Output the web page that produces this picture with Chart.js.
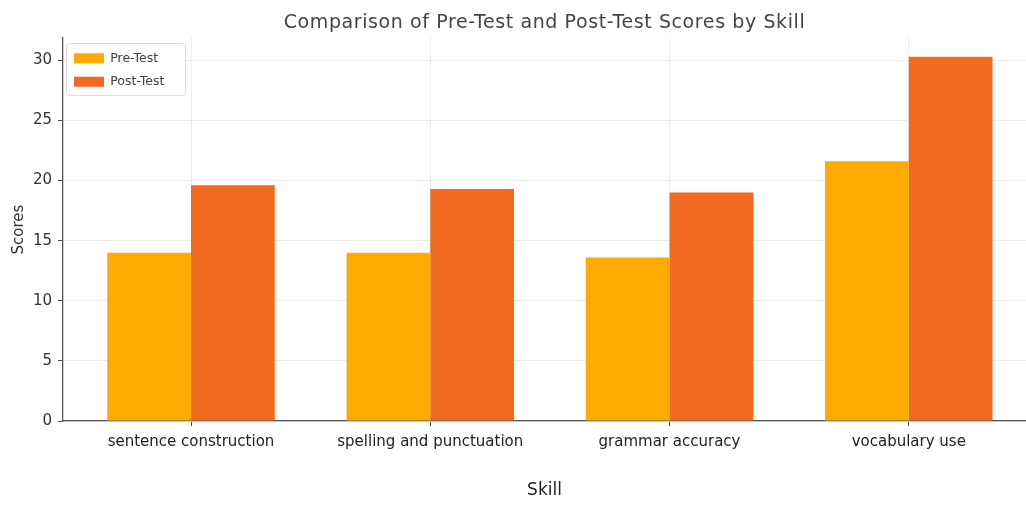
<!DOCTYPE html>
<html>
<head>
<meta charset="utf-8">
<script src="https://cdn.jsdelivr.net/npm/chart.js@4.4.1/dist/chart.umd.min.js"></script>
<style>
  html,body{margin:0;padding:0;background:#fff;overflow:hidden}
  #wrap{width:1026px;height:505px;position:relative}
</style>
</head>
<body>
<div id="wrap"><canvas id="c" width="1026" height="505"></canvas></div>
<script>
// ===== Data =====
const skills = ['sentence construction', 'spelling and punctuation', 'grammar accuracy', 'vocabulary use'];
const preTest = [14.0, 14.0, 13.6, 21.6];
const postTest = [19.6, 19.3, 19.0, 30.3];
const yTicks = [0, 5, 10, 15, 20, 25, 30];

const TITLE = 'Comparison of Pre-Test and Post-Test Scores by Skill';
const PRE_COLOR = '#FFAA00', POST_COLOR = '#F26A1F';

// title drawn over the plot centre (matplotlib style)
const titlePlugin = {
  id: 'plotTitle',
  afterDraw(chart){
    const {ctx, chartArea} = chart;
    ctx.save();
    ctx.font = '19px "DejaVu Sans"';
    ctx.letterSpacing = '0.6px';
    ctx.fillStyle = '#444';
    ctx.textAlign = 'center';
    ctx.textBaseline = 'middle';
    ctx.fillText(TITLE, (chartArea.left + chartArea.right) / 2, 23);
    ctx.restore();
  }
};

// legend sits inside the plot, top-left, with a light frame
const legendFrame = {
  id: 'legendFrame',
  afterLayout(chart){
    const lg = chart.legend; if(!lg) return;
    const dy = chart.chartArea.top + 3;
    lg.top += dy; lg.bottom += dy;
  },
  afterDatasetsDraw(chart){
    const lg = chart.legend; if(!lg) return;
    const {ctx} = chart;
    ctx.save();
    ctx.fillStyle = 'rgba(255,255,255,0.9)';
    ctx.strokeStyle = '#ddd';
    ctx.lineWidth = 1;
    ctx.beginPath();
    ctx.roundRect(lg.left + 3.5, lg.top + 2.5, 119, 52, 3);
    ctx.fill(); ctx.stroke();
    ctx.restore();
    lg.draw();
  }
};

const ctx = document.getElementById('c').getContext('2d');
new Chart(ctx, {
  type: 'bar',
  data: {
    datasets: [
      {label: 'Pre-Test', data: preTest.map((v,i)=>({x:i, y:v})), backgroundColor: PRE_COLOR, categoryPercentage: 0.7, barPercentage: 1},
      {label: 'Post-Test', data: postTest.map((v,i)=>({x:i, y:v})), backgroundColor: POST_COLOR, categoryPercentage: 0.7, barPercentage: 1}
    ]
  },
  options: {
    responsive: false,
    animation: false,
    layout: {padding: {top: 38, left: 0, right: 0, bottom: 0}},
    plugins: {
      title: {display: false},
      tooltip: {enabled: false},
      legend: {
        position: 'chartArea',
        align: 'start',
        labels: {
          boxWidth: 30, boxHeight: 10, padding: 11,
          color: '#444', font: {family: '"DejaVu Sans"', size: 12.5}
        }
      }
    },
    scales: {
      x: {
        type: 'linear',
        offset: false,
        min: -0.535, max: 3.49,
        afterBuildTicks: s => { s.ticks = skills.map((_, i) => ({value: i})); },
        afterFit: s => { s.height = 84; },
        ticks: {
          callback: v => skills[v],
          color: '#222', padding: 7, maxRotation: 0, autoSkip: false,
          font: {family: '"DejaVu Sans"', size: 15}
        },
        grid: {offset: false, color: '#ececec', tickColor: '#444', tickLength: 5},
        border: {color: '#555', width: 1.3},
        title: {display: true, text: 'Skill', color: '#222', font: {family: '"DejaVu Sans"', size: 17}, padding: {top: 10, bottom: 4}}
      },
      y: {
        min: 0, max: 31.85,
        afterBuildTicks: s => { s.ticks = yTicks.map(v => ({value: v})); },
        afterFit: s => { s.width = 63; },
        ticks: {color: '#333', padding: 6, font: {family: '"DejaVu Sans"', size: 15}},
        grid: {color: '#ececec', tickColor: '#444', tickLength: 5},
        border: {color: '#555', width: 1.3},
        title: {display: true, text: 'Scores', color: '#333', font: {family: '"DejaVu Sans"', size: 15}, padding: {top: 10, bottom: 4}}
      }
    }
  },
  plugins: [legendFrame, titlePlugin]
});
</script>
</body>
</html>
